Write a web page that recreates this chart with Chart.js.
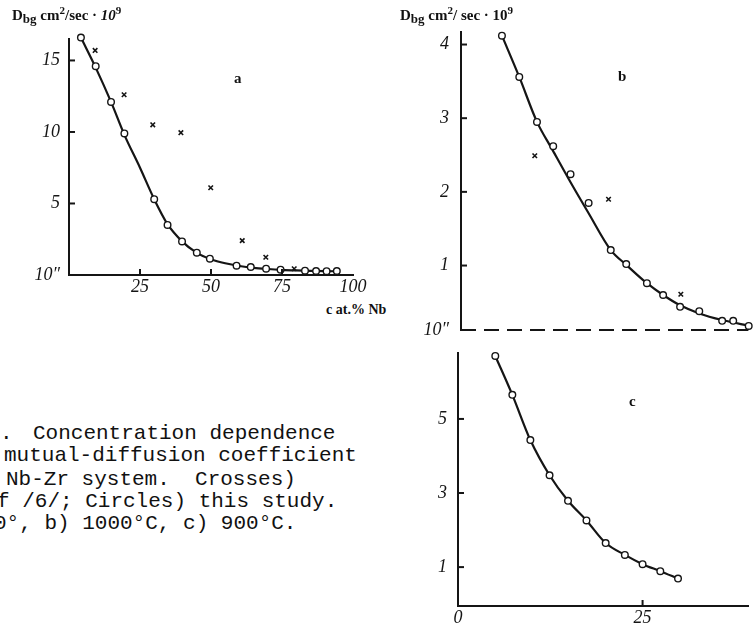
<!DOCTYPE html>
<html><head><meta charset="utf-8">
<script src="https://cdn.jsdelivr.net/npm/chart.js@4/dist/chart.umd.min.js"></script>
<style>
html,body{margin:0;padding:0;background:#fff;}
body{width:754px;height:625px;overflow:hidden;position:relative;}
canvas{position:absolute;}
.t{position:absolute;font-family:"Liberation Serif",serif;font-weight:bold;color:#111;white-space:nowrap;font-size:15px;}
.t sub{font-size:13px;vertical-align:-3px;}
.t sup{font-size:11px;vertical-align:6px;}
.lab{position:absolute;font-family:"Liberation Serif",serif;font-weight:bold;color:#111;font-size:15px;white-space:nowrap;}
.cap{position:absolute;font-family:"Liberation Mono",monospace;font-size:21px;color:#111;white-space:pre;line-height:22px;}
</style></head><body>
<canvas id="ca" width="400" height="300" style="left:0;top:0"></canvas>
<canvas id="cb" width="354" height="340" style="left:400px;top:0"></canvas>
<canvas id="cc" width="354" height="285" style="left:400px;top:340px"></canvas>

<div class="t" style="left:12px;top:4px">D<sub>bg</sub> cm<sup>2</sup>/sec · <i>10</i><sup>9</sup></div>
<div class="t" style="left:400px;top:4px">D<sub>bg</sub> cm<sup>2</sup>/ sec · 10<sup>9</sup></div>
<div class="lab" style="left:234px;top:70px">a</div>
<div class="lab" style="left:618px;top:68px">b</div>
<div class="lab" style="left:629px;top:393px">c</div>
<div class="lab" style="left:326px;top:302px;font-size:14px">c at.% Nb</div>

<div class="cap" style="left:0;top:423px">.  </div>
<div class="cap" style="left:33px;top:423px">Concentration dependence</div>
<div class="cap" style="left:4px;top:445px">mutual-diffusion coefficient</div>
<div class="cap" style="left:6px;top:469px">Nb-Zr system.  Crosses)</div>
<div class="cap" style="left:-3px;top:491px">f /6/; Circles) this study.</div>
<div class="cap" style="left:-6px;top:513px">0°, b) 1000°C, c) 900°C.</div>

<script>
// ---------- Panel a ----------
const aCircleX = [4.2, 9.4, 14.8, 19.5, 30, 34.7, 39.8, 45, 49.6, 59, 64, 69.4, 74.5, 83.1, 87, 90.7, 94.3];
const aCircleY = [16.6, 14.6, 12.1, 9.9, 5.3, 3.5, 2.35, 1.56, 1.14, 0.65, 0.56, 0.44, 0.37, 0.30, 0.28, 0.27, 0.28];
const aCrossX = [9.2, 19.4, 29.5, 39.4, 49.9, 61, 69.3, 79.3];
const aCrossY = [15.7, 12.6, 10.5, 9.95, 6.1, 2.4, 1.24, 0.44];
const aCurveX = [4.2, 9.4, 14.8, 19.5, 25, 30, 34.7, 39.8, 45, 50, 55, 60, 65, 70, 75, 80, 85, 90, 95];
const aCurveY = [16.6, 14.5, 12.1, 9.8, 7.5, 5.3, 3.55, 2.35, 1.55, 1.1, 0.82, 0.63, 0.5, 0.42, 0.36, 0.32, 0.29, 0.27, 0.26];
const aXTicks = [0, 25, 50, 75, 100];
const aXLabels = ['', '25', '50', '75', '100'];
const aYTicks = [0, 5, 10, 15];
const aYLabels = ['10″', '5', '10', '15'];

// ---------- Panel b ----------
const bCircleX = [5.55, 7.9, 10.3, 12.5, 14.85, 17.3, 20.3, 22.4, 25.2, 27.4, 29.7, 32.3, 35.4, 36.9, 39.0];
const bCircleY = [4.12, 3.56, 2.95, 2.62, 2.24, 1.85, 1.21, 1.02, 0.76, 0.60, 0.44, 0.38, 0.25, 0.25, 0.18];
const bCrossX = [10.0, 20.0, 29.8];
const bCrossY = [2.49, 1.90, 0.61];
const bCurveX = [5.55, 7.9, 10.3, 12.4, 14.85, 17.3, 20.3, 22.4, 25.2, 27.4, 29.7, 32.3, 35.4, 39.2];
const bCurveY = [4.12, 3.56, 2.95, 2.57, 2.13, 1.71, 1.21, 1.01, 0.76, 0.60, 0.46, 0.35, 0.26, 0.18];
const bYTicks = [0.125, 1, 2, 3, 4];
const bYLabels = ['10″', '1', '2', '3', '4'];

// ---------- Panel c ----------
const cCircleX = [5.05, 7.36, 9.8, 12.4, 14.9, 17.4, 20.0, 22.6, 25.0, 27.4, 29.8];
const cCircleY = [6.7, 5.65, 4.43, 3.48, 2.79, 2.26, 1.65, 1.33, 1.08, 0.89, 0.69];
const cXTicks = [0, 25];
const cXLabels = ['0', '25'];
const cYTicks = [1, 3, 5];
const cYLabels = ['1', '3', '5'];

const zip = (xs, ys) => xs.map((x, i) => ({x, y: ys[i]}));
const INK = '#151515';
const tickFont = {family: '"Liberation Serif", serif', style: 'italic', size: 18};

const inwardTicks = {
  id: 'inwardTicks',
  afterDatasetsDraw(chart, args, o) {
    const ctx = chart.ctx, xs = chart.scales.x, ys = chart.scales.y;
    ctx.save(); ctx.strokeStyle = INK; ctx.lineWidth = 2;
    (o.y || []).forEach(v => {
      const y = ys.getPixelForValue(v);
      ctx.beginPath(); ctx.moveTo(xs.left, y); ctx.lineTo(xs.left + o.len, y); ctx.stroke();
    });
    (o.x || []).forEach(v => {
      const x = xs.getPixelForValue(v);
      ctx.beginPath(); ctx.moveTo(x, ys.bottom); ctx.lineTo(x, ys.bottom - o.len); ctx.stroke();
    });
    if (o.dashBase) {
      ctx.setLineDash([15, 8]);
      ctx.beginPath(); ctx.moveTo(xs.left, ys.bottom); ctx.lineTo(xs.right, ys.bottom); ctx.stroke();
    }
    ctx.restore();
  }
};

function makePanel(id, p) {
  const datasets = [{
    type: 'line', data: zip(p.curveX, p.curveY), borderColor: INK, borderWidth: 2.2,
    pointRadius: 0, cubicInterpolationMode: 'monotone', fill: false, order: 3
  }];
  if (p.crossX) datasets.push({
    type: 'scatter', data: zip(p.crossX, p.crossY), pointStyle: 'crossRot', pointRadius: 3.2,
    borderColor: INK, borderWidth: 1.6, order: 2
  });
  datasets.push({
    type: 'scatter', data: zip(p.circleX, p.circleY), pointStyle: 'circle', pointRadius: 3.3,
    borderColor: INK, backgroundColor: '#fff', borderWidth: 1.4, order: 1
  });
  return new Chart(document.getElementById(id), {
    type: 'scatter',
    data: {datasets},
    options: {
      responsive: false, animation: false, devicePixelRatio: 1, clip: false,
      layout: {padding: p.padding},
      plugins: {legend: {display: false}, tooltip: {enabled: false},
        inwardTicks: {y: p.yTickMarks, x: p.xTickMarks || [], len: 6, dashBase: !!p.dashBase}},
      scales: {
        x: {
          type: 'linear', min: p.xMin, max: p.xMax, position: 'bottom',
          afterFit: s => { s.height = p.xH; s.paddingLeft = 0; s.paddingRight = 0; s.paddingTop = 0; s.paddingBottom = 0; },
          afterBuildTicks: s => { s.ticks = (p.xTicks || []).map(v => ({value: v})); },
          grid: {display: true, drawOnChartArea: false, drawTicks: false},
          border: {display: !p.dashBase, color: INK, width: 2},
          ticks: {display: !!p.xTicks, autoSkip: false, color: INK, font: tickFont, padding: 1,
            maxRotation: 0, callback: (v, i) => p.xLabels[i]}
        },
        y: {
          type: 'linear', min: p.yMin, max: p.yMax,
          afterFit: s => { s.width = p.yW; s.paddingTop = 0; s.paddingBottom = 0; s.paddingLeft = 0; s.paddingRight = 0; },
          afterBuildTicks: s => { s.ticks = p.yTicks.map(v => ({value: v})); },
          grid: {display: true, drawOnChartArea: false, drawTicks: false},
          border: {display: true, color: INK, width: 2},
          ticks: {autoSkip: false, color: INK, font: tickFont, padding: p.yPad,
            callback: (v, i) => p.yLabels[i]}
        }
      }
    },
    plugins: [inwardTicks]
  });
}

makePanel('ca', {
  circleX: aCircleX, circleY: aCircleY, crossX: aCrossX, crossY: aCrossY,
  curveX: aCurveX, curveY: aCurveY,
  xMin: 0, xMax: 100, yMin: 0, yMax: 16.5,
  xTicks: aXTicks, xLabels: aXLabels, yTicks: aYTicks, yLabels: aYLabels,
  yTickMarks: [5, 10, 15], xTickMarks: [25, 50, 75], padding: {left: 0, top: 39, right: 47, bottom: 0},
  xH: 25, yW: 69, yPad: 9
});

makePanel('cb', {
  circleX: bCircleX, circleY: bCircleY, crossX: bCrossX, crossY: bCrossY,
  curveX: bCurveX, curveY: bCurveY,
  xMin: 0, xMax: 38.96, yMin: 0.125, yMax: 4.17,
  xTicks: null, xLabels: [], yTicks: bYTicks, yLabels: bYLabels, dashBase: true,
  yTickMarks: [1, 2, 3, 4], padding: {left: 0, top: 32, right: 0, bottom: 0},
  xH: 10, yW: 61, yPad: 12
});

makePanel('cc', {
  circleX: cCircleX, circleY: cCircleY,
  curveX: cCircleX, curveY: cCircleY,
  xMin: 0, xMax: 39.36, yMin: -0.05, yMax: 6.78,
  xTicks: cXTicks, xLabels: cXLabels, yTicks: cYTicks, yLabels: cYLabels,
  yTickMarks: [1, 3, 5], xTickMarks: [25], padding: {left: 0, top: 13, right: 0, bottom: 0},
  xH: 19, yW: 58, yPad: 11
});
</script>
</body></html>
